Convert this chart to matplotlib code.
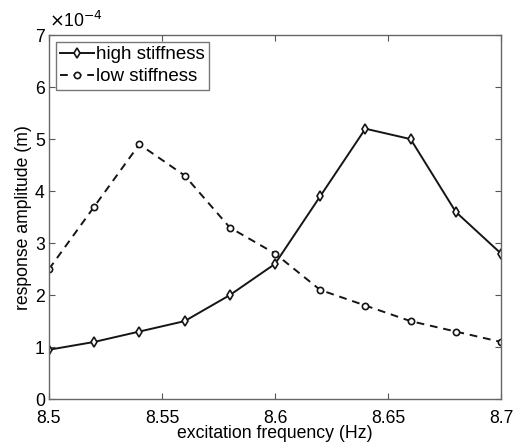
import numpy as np
import matplotlib.pyplot as plt

plt.rcParams['font.family'] = ['Liberation Sans', 'DejaVu Sans']

# data (amplitudes in units of 1e-4 m)
freq = [8.50, 8.52, 8.54, 8.56, 8.58, 8.60, 8.62, 8.64, 8.66, 8.68, 8.70]
high_stiff = [0.95, 1.1, 1.3, 1.5, 2.0, 2.6, 3.9, 5.2, 5.0, 3.6, 2.8]
low_stiff = [2.5, 3.7, 4.9, 4.3, 3.3, 2.8, 2.1, 1.8, 1.5, 1.3, 1.1]

x_ticks = [8.5, 8.55, 8.6, 8.65, 8.7]
x_ticklabels = ['8.5', '8.55', '8.6', '8.65', '8.7']
y_ticks = [0, 1, 2, 3, 4, 5, 6, 7]

fig = plt.figure(figsize=(5.21, 4.44), dpi=100)
ax = fig.add_axes([0.094, 0.101, 0.8676, 0.82])

ax.plot(freq, high_stiff, '-', color='#151515', lw=1.4, marker='d',
        markersize=5.5, markerfacecolor='white', markeredgecolor='#151515',
        markeredgewidth=1.2, label='high stiffness')
ax.plot(freq, low_stiff, '--', color='#151515', lw=1.4, marker='o',
        markersize=4.5, markerfacecolor='white', markeredgecolor='#151515',
        markeredgewidth=1.2, dashes=(4, 3), label='low stiffness')

ax.set_xlim(8.5, 8.7)
ax.set_ylim(0, 7)
ax.set_xticks(x_ticks)
ax.set_xticklabels(x_ticklabels)
ax.set_yticks(y_ticks)
ax.tick_params(direction='in', top=True, right=True, labelsize=12.7,
               color='#555555', length=4)
ax.tick_params(axis='x', pad=7.5)
ax.tick_params(axis='y', pad=3)
for s in ax.spines.values():
    s.set_color('#666666')
    s.set_linewidth(1.0)

ax.set_xlabel('excitation frequency (Hz)', fontsize=12.7, labelpad=-1)
ax.set_ylabel('response amplitude (m)', fontsize=12.7, labelpad=2)
ax.text(0.0, 1.01, r'$\times$10$^{-4}$', transform=ax.transAxes,
        fontsize=12.7, ha='left', va='bottom')

leg = ax.legend(loc='upper left', fontsize=13.5, frameon=True, fancybox=False,
                edgecolor='#555555', handlelength=1.8, handletextpad=0.1,
                borderaxespad=0.35, borderpad=0.25, labelspacing=0.25)
leg.get_frame().set_linewidth(1.0)

plt.savefig('out.png', dpi=100)
